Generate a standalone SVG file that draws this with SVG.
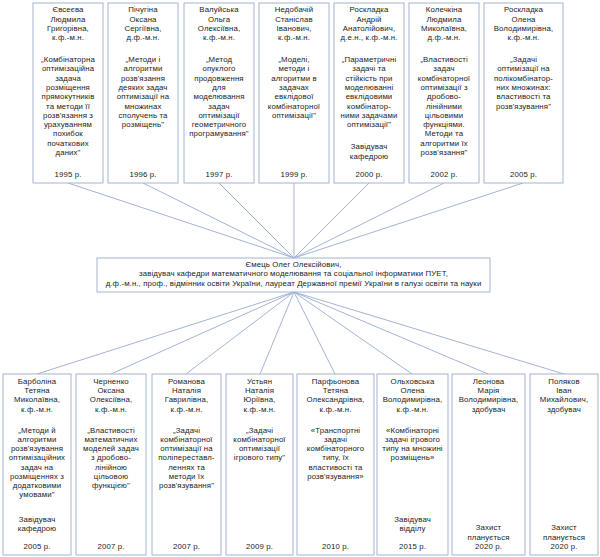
<svg xmlns="http://www.w3.org/2000/svg" width="600" height="557" viewBox="0 0 600 557">
<style>
.box{fill:#ffffff;stroke:#a3b4d2;stroke-width:1}
.ln{stroke:#98acd0;stroke-width:0.9;fill:none}
text{font-family:"Liberation Sans",Arial,sans-serif;font-size:7.8px;letter-spacing:0.12px;fill:#222222;text-anchor:middle}
</style>
<rect width="600" height="557" fill="#ffffff"/>
<g id="connectors">
<line class="ln" x1="68" y1="183" x2="294" y2="258"/>
<line class="ln" x1="143" y1="183" x2="294" y2="258"/>
<line class="ln" x1="219" y1="183" x2="294" y2="258"/>
<line class="ln" x1="294" y1="183" x2="294" y2="258"/>
<line class="ln" x1="369" y1="183" x2="294" y2="258"/>
<line class="ln" x1="444" y1="183" x2="294" y2="258"/>
<line class="ln" x1="523" y1="183" x2="294" y2="258"/>
<line class="ln" x1="294" y1="292" x2="37" y2="374"/>
<line class="ln" x1="294" y1="292" x2="111" y2="374"/>
<line class="ln" x1="294" y1="292" x2="186" y2="374"/>
<line class="ln" x1="294" y1="292" x2="260" y2="374"/>
<line class="ln" x1="294" y1="292" x2="335" y2="374"/>
<line class="ln" x1="294" y1="292" x2="412" y2="374"/>
<line class="ln" x1="294" y1="292" x2="488" y2="374"/>
<line class="ln" x1="294" y1="292" x2="564" y2="374"/>
</g>
<g id="t1">
<rect class="box" x="33" y="3" width="70" height="180"/>
<text><tspan x="68" y="12.2">Євсеєва</tspan><tspan x="68" y="21.5">Людмила</tspan><tspan x="68" y="30.8">Григорівна,</tspan><tspan x="68" y="40.1">к.ф.-м.н.</tspan><tspan x="68" y="62">„Комбінаторна</tspan><tspan x="68" y="71.3">оптимізаційна</tspan><tspan x="68" y="80.6">задача</tspan><tspan x="68" y="89.9">розміщення</tspan><tspan x="68" y="99.2">прямокутників</tspan><tspan x="68" y="108.5">та методи її</tspan><tspan x="68" y="117.8">розв'язання з</tspan><tspan x="68" y="127.1">урахуванням</tspan><tspan x="68" y="136.4">похибок</tspan><tspan x="68" y="145.7">початкових</tspan><tspan x="68" y="155">даних"</tspan><tspan x="68" y="176.7">1995 р.</tspan></text>
</g>
<g id="t2">
<rect class="box" x="108" y="3" width="70" height="180"/>
<text><tspan x="143" y="12.2">Пічугіна</tspan><tspan x="143" y="21.5">Оксана</tspan><tspan x="143" y="30.8">Сергіївна,</tspan><tspan x="143" y="40.1">д.ф.-м.н.</tspan><tspan x="143" y="62">„Методи і</tspan><tspan x="143" y="71.3">алгоритми</tspan><tspan x="143" y="80.6">розв'язання</tspan><tspan x="143" y="89.9">деяких задач</tspan><tspan x="143" y="99.2">оптимізації на</tspan><tspan x="143" y="108.5">множинах</tspan><tspan x="143" y="117.8">сполучень та</tspan><tspan x="143" y="127.1">розміщень"</tspan><tspan x="143" y="176.7">1996 р.</tspan></text>
</g>
<g id="t3">
<rect class="box" x="184" y="3" width="70" height="180"/>
<text><tspan x="219" y="12.2">Валуйська</tspan><tspan x="219" y="21.5">Ольга</tspan><tspan x="219" y="30.8">Олексіївна,</tspan><tspan x="219" y="40.1">к.ф.-м.н.</tspan><tspan x="219" y="62">„Метод</tspan><tspan x="219" y="71.3">опуклого</tspan><tspan x="219" y="80.6">продовження</tspan><tspan x="219" y="89.9">для</tspan><tspan x="219" y="99.2">моделювання</tspan><tspan x="219" y="108.5">задач</tspan><tspan x="219" y="117.8">оптимізації</tspan><tspan x="219" y="127.1">геометричного</tspan><tspan x="219" y="136.4">програмування"</tspan><tspan x="219" y="176.7">1997 р.</tspan></text>
</g>
<g id="t4">
<rect class="box" x="259" y="3" width="70" height="180"/>
<text><tspan x="294" y="12.2">Недобачій</tspan><tspan x="294" y="21.5">Станіслав</tspan><tspan x="294" y="30.8">Іванович,</tspan><tspan x="294" y="40.1">к.ф.-м.н.</tspan><tspan x="294" y="62">„Моделі,</tspan><tspan x="294" y="71.3">методи і</tspan><tspan x="294" y="80.6">алгоритми в</tspan><tspan x="294" y="89.9">задачах</tspan><tspan x="294" y="99.2">евклідової</tspan><tspan x="294" y="108.5">комбінаторної</tspan><tspan x="294" y="117.8">оптимізації"</tspan><tspan x="294" y="176.7">1999 р.</tspan></text>
</g>
<g id="t5">
<rect class="box" x="334" y="3" width="70" height="180"/>
<text><tspan x="369" y="12.2">Роскладка</tspan><tspan x="369" y="21.5">Андрій</tspan><tspan x="369" y="30.8">Анатолійович,</tspan><tspan x="369" y="40.1">д.е.н., к.ф.-м.н.</tspan><tspan x="369" y="62">„Параметричні</tspan><tspan x="369" y="71.3">задачі та</tspan><tspan x="369" y="80.6">стійкість при</tspan><tspan x="369" y="89.9">моделюванні</tspan><tspan x="369" y="99.2">евклідовими</tspan><tspan x="369" y="108.5">комбінатор-</tspan><tspan x="369" y="117.8">ними задачами</tspan><tspan x="369" y="127.1">оптимізації"</tspan><tspan x="369" y="149.2">Завідувач</tspan><tspan x="369" y="158.5">кафедрою</tspan><tspan x="369" y="176.7">2000 р.</tspan></text>
</g>
<g id="t6">
<rect class="box" x="409" y="3" width="70" height="180"/>
<text><tspan x="444" y="12.2">Колечкіна</tspan><tspan x="444" y="21.5">Людмила</tspan><tspan x="444" y="30.8">Миколаївна,</tspan><tspan x="444" y="40.1">д.ф.-м.н.</tspan><tspan x="444" y="62">„Властивості</tspan><tspan x="444" y="71.3">задач</tspan><tspan x="444" y="80.6">комбінаторної</tspan><tspan x="444" y="89.9">оптимізації з</tspan><tspan x="444" y="99.2">дробово-</tspan><tspan x="444" y="108.5">лінійними</tspan><tspan x="444" y="117.8">цільовими</tspan><tspan x="444" y="127.1">функціями.</tspan><tspan x="444" y="136.4">Методи та</tspan><tspan x="444" y="145.7">алгоритми їх</tspan><tspan x="444" y="155">розв'язання"</tspan><tspan x="444" y="176.7">2002 р.</tspan></text>
</g>
<g id="t7">
<rect class="box" x="484" y="3" width="79" height="180"/>
<text><tspan x="523.5" y="12.2">Роскладка</tspan><tspan x="523.5" y="21.5">Олена</tspan><tspan x="523.5" y="30.8">Володимирівна,</tspan><tspan x="523.5" y="40.1">к.ф.-м.н.</tspan><tspan x="523.5" y="62">„Задачі</tspan><tspan x="523.5" y="71.3">оптимізації на</tspan><tspan x="523.5" y="80.6">полікомбінатор-</tspan><tspan x="523.5" y="89.9">них множинах:</tspan><tspan x="523.5" y="99.2">властивості та</tspan><tspan x="523.5" y="108.5">розв'язування"</tspan><tspan x="523.5" y="176.7">2005 р.</tspan></text>
</g>
<g id="center">
<rect class="box" x="97" y="258" width="393" height="34"/>
<text><tspan x="293.5" y="266.5">Ємець Олег Олексійович,</tspan><tspan x="293.5" y="276">завідувач кафедри математичного моделювання та соціальної інформатики ПУЕТ,</tspan><tspan x="293.5" y="285.5">д.ф.-м.н., проф., відмінник освіти України, лауреат Державної премії України в галузі освіти та науки</tspan></text>
</g>
<g id="b1">
<rect class="box" x="3" y="374" width="68" height="181"/>
<text><tspan x="37" y="383.7">Барболіна</tspan><tspan x="37" y="393">Тетяна</tspan><tspan x="37" y="402.3">Миколаївна,</tspan><tspan x="37" y="411.6">к.ф.-м.н.</tspan><tspan x="37" y="432.7">„Методи й</tspan><tspan x="37" y="441.9">алгоритми</tspan><tspan x="37" y="451.1">розв'язування</tspan><tspan x="37" y="460.3">оптимізаційних</tspan><tspan x="37" y="469.5">задач на</tspan><tspan x="37" y="478.7">розміщеннях з</tspan><tspan x="37" y="487.9">додатковими</tspan><tspan x="37" y="497.1">умовами"</tspan><tspan x="37" y="521.7">Завідувач</tspan><tspan x="37" y="530.7">кафедрою</tspan><tspan x="37" y="548.7">2005 р.</tspan></text>
</g>
<g id="b2">
<rect class="box" x="76" y="374" width="70" height="181"/>
<text><tspan x="111" y="383.7">Черненко</tspan><tspan x="111" y="393">Оксана</tspan><tspan x="111" y="402.3">Олексіївна,</tspan><tspan x="111" y="411.6">к.ф.-м.н.</tspan><tspan x="111" y="432.7">„Властивості</tspan><tspan x="111" y="441.9">математичних</tspan><tspan x="111" y="451.1">моделей задач</tspan><tspan x="111" y="460.3">з дробово-</tspan><tspan x="111" y="469.5">лінійною</tspan><tspan x="111" y="478.7">цільовою</tspan><tspan x="111" y="487.9">функцією"</tspan><tspan x="111" y="548.7">2007 р.</tspan></text>
</g>
<g id="b3">
<rect class="box" x="152" y="374" width="69" height="181"/>
<text><tspan x="186.5" y="383.7">Романова</tspan><tspan x="186.5" y="393">Наталія</tspan><tspan x="186.5" y="402.3">Гаврилівна,</tspan><tspan x="186.5" y="411.6">к.ф.-м.н.</tspan><tspan x="186.5" y="432.7">„Задачі</tspan><tspan x="186.5" y="441.9">комбінаторної</tspan><tspan x="186.5" y="451.1">оптимізації на</tspan><tspan x="186.5" y="460.3">поліпереставл-</tspan><tspan x="186.5" y="469.5">леннях та</tspan><tspan x="186.5" y="478.7">методи їх</tspan><tspan x="186.5" y="487.9">розв'язування"</tspan><tspan x="186.5" y="548.7">2007 р.</tspan></text>
</g>
<g id="b4">
<rect class="box" x="226" y="374" width="67" height="181"/>
<text><tspan x="259.5" y="383.7">Устьян</tspan><tspan x="259.5" y="393">Наталія</tspan><tspan x="259.5" y="402.3">Юріївна,</tspan><tspan x="259.5" y="411.6">к.ф.-м.н.</tspan><tspan x="259.5" y="432.7">„Задачі</tspan><tspan x="259.5" y="441.9">комбінаторної</tspan><tspan x="259.5" y="451.1">оптимізації</tspan><tspan x="259.5" y="460.3">ігрового типу"</tspan><tspan x="259.5" y="548.7">2009 р.</tspan></text>
</g>
<g id="b5">
<rect class="box" x="297" y="374" width="77" height="181"/>
<text><tspan x="335.5" y="383.7">Парфьонова</tspan><tspan x="335.5" y="393">Тетяна</tspan><tspan x="335.5" y="402.3">Олександрівна,</tspan><tspan x="335.5" y="411.6">к.ф.-м.н.</tspan><tspan x="335.5" y="432.7">«Транспортні</tspan><tspan x="335.5" y="441.9">задачі</tspan><tspan x="335.5" y="451.1">комбінаторного</tspan><tspan x="335.5" y="460.3">типу, їх</tspan><tspan x="335.5" y="469.5">властивості та</tspan><tspan x="335.5" y="478.7">розв'язування»</tspan><tspan x="335.5" y="548.7">2010 р.</tspan></text>
</g>
<g id="b6">
<rect class="box" x="377" y="374" width="71" height="181"/>
<text><tspan x="412.5" y="383.7">Ольховська</tspan><tspan x="412.5" y="393">Олена</tspan><tspan x="412.5" y="402.3">Володимирівна,</tspan><tspan x="412.5" y="411.6">к.ф.-м.н.</tspan><tspan x="412.5" y="432.7">«Комбінаторні</tspan><tspan x="412.5" y="441.9">задачі ігрового</tspan><tspan x="412.5" y="451.1">типу на множині</tspan><tspan x="412.5" y="460.3">розміщень»</tspan><tspan x="412.5" y="521.7">Завідувач</tspan><tspan x="412.5" y="530.7">відділу</tspan><tspan x="412.5" y="548.7">2015 р.</tspan></text>
</g>
<g id="b7">
<rect class="box" x="452" y="374" width="73" height="181"/>
<text><tspan x="488.5" y="383.7">Леонова</tspan><tspan x="488.5" y="393">Марія</tspan><tspan x="488.5" y="402.3">Володимирівна,</tspan><tspan x="488.5" y="411.6">здобувач</tspan><tspan x="488.5" y="530.3">Захист</tspan><tspan x="488.5" y="539.5">планується</tspan><tspan x="488.5" y="548.7">2020 р.</tspan></text>
</g>
<g id="b8">
<rect class="box" x="530" y="374" width="68" height="181"/>
<text><tspan x="564" y="383.7">Поляков</tspan><tspan x="564" y="393">Іван</tspan><tspan x="564" y="402.3">Михайлович,</tspan><tspan x="564" y="411.6">здобувач</tspan><tspan x="564" y="530.3">Захист</tspan><tspan x="564" y="539.5">планується</tspan><tspan x="564" y="548.7">2020 р.</tspan></text>
</g>
</svg>
